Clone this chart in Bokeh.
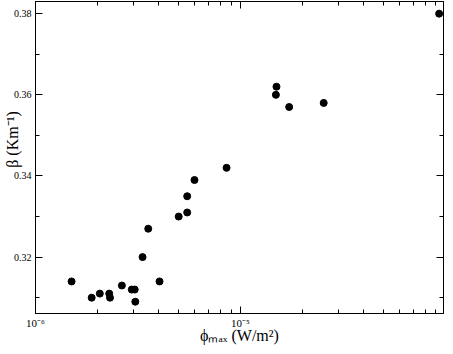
from bokeh.plotting import figure
from bokeh.models import (FixedTicker, LinearAxis, LogAxis, Range1d,
                          CustomJSTickFormatter)
from bokeh.embed import file_html
from bokeh.resources import INLINE

# data
phi = [1.50e-6, 1.88e-6, 2.06e-6, 2.29e-6, 2.31e-6, 2.64e-6, 2.95e-6, 3.05e-6,
       3.07e-6, 3.33e-6, 3.55e-6, 4.03e-6, 5.00e-6, 5.50e-6, 5.50e-6, 5.97e-6,
       8.56e-6, 1.50e-5, 1.49e-5, 1.73e-5, 2.55e-5, 9.33e-5]
beta = [0.314, 0.310, 0.311, 0.311, 0.310, 0.313, 0.312, 0.312,
        0.309, 0.320, 0.327, 0.314, 0.330, 0.331, 0.335, 0.339,
        0.342, 0.362, 0.360, 0.357, 0.358, 0.380]

x_major = [1e-6, 1e-5, 1e-4]
x_minor = [k * 10.0 ** e for e in (-6, -5) for k in range(2, 10)]
y_major = [0.32, 0.34, 0.36, 0.38]
y_minor = [0.31, 0.33, 0.35, 0.37]

x_label = "ϕₘₐₓ (W/m²)"
y_label = "β (Km⁻¹)"

FONT = "Liberation Serif"

p = figure(width=445, height=346, x_axis_type="log",
           x_range=Range1d(1e-6, 9.8e-5), y_range=Range1d(0.3061, 0.3830),
           output_backend="svg", toolbar_location=None,
           min_border_left=28, min_border_right=2, min_border_top=1,
           min_border_bottom=30)
p.xgrid.visible = False
p.ygrid.visible = False
p.outline_line_color = "black"
p.outline_line_alpha = 1.0
p.background_fill_color = "white"
p.border_fill_color = "white"

blank = CustomJSTickFormatter(code="return ''")
pow10 = CustomJSTickFormatter(code="""
const e = Math.round(Math.log10(tick));
const sup = {'-': '\u207b', '0': '\u2070', '1': '\u00b9', '2': '\u00b2',
             '3': '\u00b3', '4': '\u2074', '5': '\u2075', '6': '\u2076',
             '7': '\u2077', '8': '\u2078', '9': '\u2079'};
return '10' + String(e).split('').map(c => sup[c]).join('');
""")


def style(ax, show_labels=True):
    ax.major_tick_in = 7
    ax.major_tick_out = 0
    ax.minor_tick_in = 4
    ax.minor_tick_out = 0
    ax.axis_line_color = "black"
    ax.major_tick_line_color = "black"
    ax.minor_tick_line_color = "black"
    ax.major_label_text_font = FONT
    ax.major_label_text_color = "black"
    ax.major_label_standoff = 3
    ax.major_label_text_font_size = "10px"
    ax.axis_label_text_font = FONT
    ax.axis_label_text_font_size = "16px"
    ax.axis_label_text_font_style = "normal"
    ax.axis_label_text_color = "black"
    if not show_labels:
        ax.formatter = blank
        ax.major_label_text_font_size = "1px"
        ax.major_label_text_alpha = 0.0
        ax.major_label_standoff = 0


p.xaxis.ticker = FixedTicker(ticks=x_major, minor_ticks=x_minor)
p.yaxis.ticker = FixedTicker(ticks=y_major, minor_ticks=y_minor)
style(p.xaxis[0])
style(p.yaxis[0])
p.xaxis.formatter = pow10
p.xaxis.major_label_text_font_size = "11px"
p.xaxis.major_label_standoff = 3
p.xaxis.axis_label = x_label
p.xaxis.axis_label_standoff = -5
p.yaxis.major_label_standoff = 4
p.yaxis.axis_label = "\u00a0" * 9 + y_label
p.yaxis.axis_label_standoff = -10

top = LogAxis(ticker=FixedTicker(ticks=x_major, minor_ticks=x_minor))
style(top, False)
p.add_layout(top, "above")
right = LinearAxis(ticker=FixedTicker(ticks=y_major, minor_ticks=y_minor))
style(right, False)
p.add_layout(right, "right")

p.scatter(phi, beta, size=7, color="black")

open("out.html", "w").write(file_html(p, INLINE))
